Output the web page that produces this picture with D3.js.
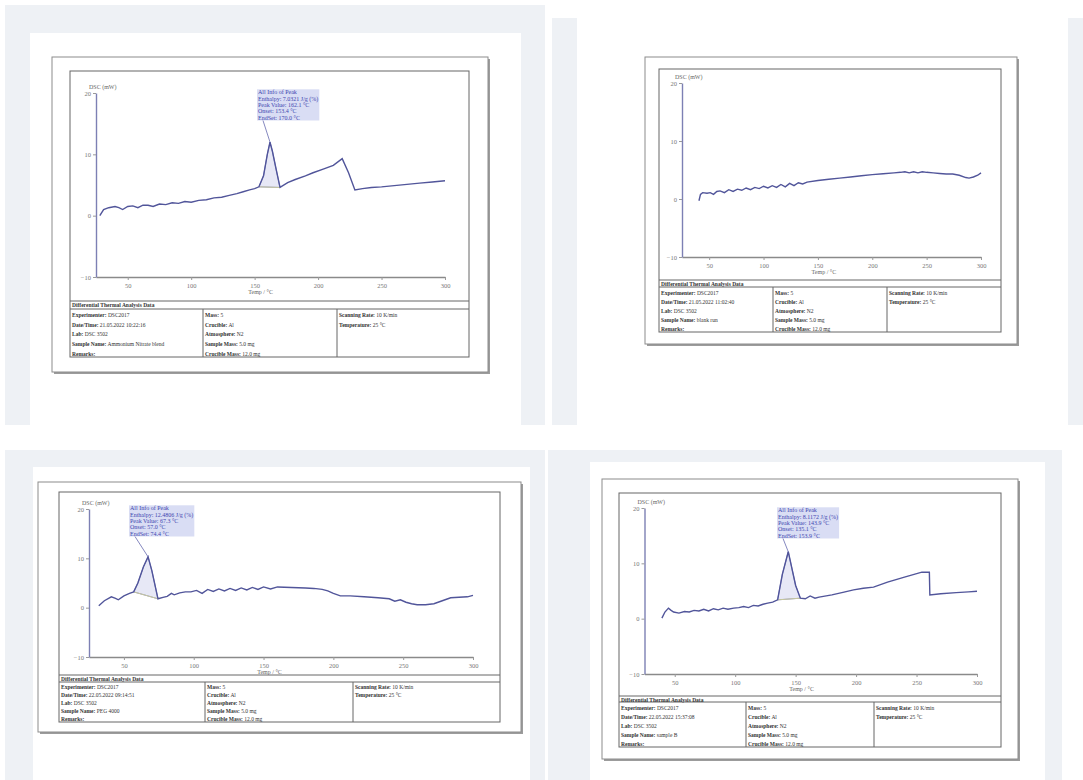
<!DOCTYPE html>
<html>
<head>
<meta charset="utf-8">
<script src="https://cdn.jsdelivr.net/npm/d3@7"></script>
<style>
  body { margin: 0; background: #fff; }
  svg { display: block; font-family: "Liberation Serif", "DejaVu Serif", serif; }
</style>
</head>
<body>
<svg id="chart" width="1083" height="780"></svg>
<script>
// shared axis settings
const xDomain = [25, 300];
const yDomain = [-10, 20];
const xTicks = [50, 100, 150, 200, 250, 300];
const yTicks = [-10, 0, 10, 20];
const xTitle = "Temp / °C";
const yTitle = "DSC (mW)";

// panel 1 (top left)
const p1Temp = [28, 31, 35, 40, 43, 46, 50, 54, 58, 62, 66, 70, 75, 80, 85, 90, 95, 100, 106, 112, 118, 124, 130, 136, 141, 146, 150, 153.4, 157, 160, 162.1, 164, 167, 170, 176, 182, 190, 196, 204, 212, 219, 224, 229, 235, 242, 250, 260, 270, 280, 290, 300];
const p1Dsc  = [0, 1.0, 1.3, 1.5, 1.3, 1.0, 1.5, 1.6, 1.3, 1.7, 1.7, 1.5, 1.9, 1.8, 2.1, 2.0, 2.3, 2.2, 2.5, 2.6, 2.9, 3.0, 3.3, 3.6, 3.9, 4.2, 4.4, 4.7, 6.5, 10.0, 12.0, 10.5, 7.5, 4.6, 5.4, 5.9, 6.5, 7.0, 7.6, 8.2, 9.3, 7.0, 4.2, 4.4, 4.6, 4.7, 4.9, 5.1, 5.3, 5.5, 5.7];
const p1Peak = [153.4, 162.1, 170];

// panel 2 (top right)
const p2Temp = [40.6, 42, 44, 48, 51, 54, 57, 60, 64, 68, 72, 76, 80, 84, 88, 92, 96, 100, 104, 108, 112, 116, 120, 124, 128, 132, 136, 140, 150, 160, 170, 180, 190, 200, 210, 220, 226, 230, 234, 238, 242, 246, 250, 256, 262, 268, 274, 280, 286, 289, 293, 297, 300];
const p2Dsc  = [-0.3, 0.8, 1.1, 1.0, 1.1, 0.8, 1.3, 1.4, 1.1, 1.6, 1.3, 1.7, 1.5, 1.9, 1.6, 2.0, 1.8, 2.2, 1.9, 2.3, 2.0, 2.5, 2.1, 2.7, 2.3, 2.8, 2.6, 2.9, 3.2, 3.4, 3.6, 3.8, 4.0, 4.2, 4.35, 4.5, 4.6, 4.7, 4.5, 4.7, 4.5, 4.7, 4.6, 4.5, 4.4, 4.3, 4.3, 4.1, 3.7, 3.6, 3.8, 4.1, 4.5];

// panel 3 (bottom left)
const p3Temp = [32, 36, 41, 44, 46, 50, 54, 57, 60, 64, 67.3, 70, 74.4, 78, 81, 84, 86, 90, 94, 98, 102, 106, 110, 114, 118, 122, 126, 130, 134, 138, 142, 146, 150, 155, 160, 170, 180, 186, 192, 196, 200, 205, 212, 222, 232, 240, 244, 248, 252, 256, 260, 266, 272, 278, 284, 290, 296, 300];
const p3Dsc  = [0.4, 1.4, 2.2, 1.9, 1.6, 2.4, 2.9, 3.2, 5.0, 8.3, 10.3, 7.5, 1.8, 2.1, 2.3, 2.9, 2.6, 3.0, 3.2, 3.2, 3.5, 2.9, 3.7, 3.3, 3.8, 3.4, 3.9, 3.5, 4.0, 3.6, 4.1, 3.7, 4.2, 3.8, 4.2, 4.1, 4.0, 3.9, 3.7, 3.4, 2.9, 2.4, 2.4, 2.2, 2.0, 1.8, 1.3, 1.6, 1.1, 0.8, 0.6, 0.6, 0.8, 1.4, 2.0, 2.1, 2.2, 2.5];
const p3Peak = [57, 67.3, 74.4];

// panel 4 (bottom right)
const p4Temp = [39.4, 41.9, 44.8, 47, 49.1, 53.5, 58, 62, 66, 70, 74, 78, 82, 86, 90, 94, 98.8, 103, 107, 111, 115, 119, 123, 126.9, 131, 135.1, 139, 143.9, 147, 150, 153.9, 158, 162, 166, 169.4, 180, 190, 197.9, 206, 214.4, 226, 240, 254.4, 260.6, 261, 270, 282.8, 293, 300];
const p4Dsc  = [0.1, 1.2, 1.9, 1.5, 1.2, 1.0, 1.3, 1.2, 1.5, 1.4, 1.7, 1.4, 1.8, 1.6, 1.9, 1.7, 1.9, 2.0, 2.2, 2.0, 2.4, 2.3, 2.6, 2.8, 3.0, 3.4, 8.0, 12.1, 9.0, 6.0, 3.7, 3.6, 4.1, 3.7, 3.9, 4.3, 4.8, 5.2, 5.5, 5.7, 6.6, 7.5, 8.4, 8.4, 4.3, 4.5, 4.7, 4.85, 4.95];
const p4Peak = [135.1, 143.9, 153.9];

// peak report texts
const p1Notes = ["All Info of Peak", "Enthalpy: 7.0321 J/g (%)", "Peak Value: 162.1 °C", "Onset: 153.4 °C", "EndSet: 170.0 °C"];
const p3Notes = ["All Info of Peak", "Enthalpy: 12.4806 J/g (%)", "Peak Value: 67.3 °C", "Onset: 57.0 °C", "EndSet: 74.4 °C"];
const p4Notes = ["All Info of Peak", "Enthalpy: 8.1172 J/g (%)", "Peak Value: 143.9 °C", "Onset: 135.1 °C", "EndSet: 153.9 °C"];

// report table texts
const tableTitle = "Differential Thermal Analysis Data";
const col2 = ["Mass: 5", "Crucible: Al", "Atmosphere: N2", "Sample Mass: 5.0 mg", "Crucible Mass: 12.0 mg"];
const col3 = ["Scanning Rate: 10 K/min", "Temperature: 25 °C"];
const p1Col1 = ["Experimenter: DSC2017", "Date/Time: 21.05.2022 10:22:16", "Lab: DSC 3502", "Sample Name: Ammonium Nitrate blend", "Remarks:"];
const p2Col1 = ["Experimenter: DSC2017", "Date/Time: 21.05.2022 11:02:40", "Lab: DSC 3502", "Sample Name: blank run", "Remarks:"];
const p3Col1 = ["Experimenter: DSC2017", "Date/Time: 22.05.2022 09:14:51", "Lab: DSC 3502", "Sample Name: PEG 4000", "Remarks:"];
const p4Col1 = ["Experimenter: DSC2017", "Date/Time: 22.05.2022 15:37:08", "Lab: DSC 3502", "Sample Name: sample B", "Remarks:"];

const svg = d3.select("#chart");

// page tiles behind each report
const tiles = [
  { gray: [5, 5, 540, 420], white: [30, 33, 491, 392] },
  { gray: [552, 18, 531, 407], white: [577, 18, 491, 407] },
  { gray: [5, 450, 540, 330], white: [33, 467, 497, 313] },
  { gray: [548, 450, 514, 330], white: [590, 462, 455, 318] }
];
tiles.forEach(t => {
  svg.append("rect").attr("x", t.gray[0]).attr("y", t.gray[1])
    .attr("width", t.gray[2]).attr("height", t.gray[3]).attr("fill", "#eef1f5");
  svg.append("rect").attr("x", t.white[0]).attr("y", t.white[1])
    .attr("width", t.white[2]).attr("height", t.white[3]).attr("fill", "#fff");
});

function drawPanel(L, temps, vals, peak, notes, col1) {
  const g = svg.append("g");

  // paper frame with shadow
  g.append("rect").attr("x", L.outer[0] + 2).attr("y", L.outer[1] + 2)
    .attr("width", L.outer[2]).attr("height", L.outer[3]).attr("fill", "#9c9c9c");
  g.append("rect").attr("x", L.outer[0]).attr("y", L.outer[1])
    .attr("width", L.outer[2]).attr("height", L.outer[3])
    .attr("fill", "#fff").attr("stroke", "#8c8c8c").attr("stroke-width", 1);
  g.append("rect").attr("x", L.inner[0]).attr("y", L.inner[1])
    .attr("width", L.inner[2]).attr("height", L.inner[3])
    .attr("fill", "none").attr("stroke", "#666").attr("stroke-width", 1);

  const x = d3.scaleLinear().domain(xDomain).range([L.x0, L.x1]);
  const y = d3.scaleLinear().domain(yDomain).range([L.yBot, L.yTop]);

  const xAxis = g.append("g").attr("transform", `translate(0,${L.yBot})`)
    .call(d3.axisBottom(x).tickValues(xTicks).tickSize(3).tickSizeOuter(0).tickPadding(3));
  xAxis.select(".domain").attr("stroke", "#8a8a8a").attr("stroke-width", 1.4);
  xAxis.selectAll(".tick line").attr("stroke", "#999");
  xAxis.selectAll("text").attr("font-size", 6.5).attr("fill", "#777").attr("font-family", "Liberation Serif");

  const yAxis = g.append("g").attr("transform", `translate(${L.x0},0)`)
    .call(d3.axisLeft(y).tickValues(yTicks).tickSize(3).tickSizeOuter(0).tickPadding(2));
  yAxis.select(".domain").attr("stroke", "#7d80b4").attr("stroke-width", 1.4);
  yAxis.selectAll(".tick line").attr("stroke", "#999");
  yAxis.selectAll("text").attr("font-size", 6.5).attr("fill", "#777").attr("font-family", "Liberation Serif");

  g.append("text").attr("x", L.x0 - 7).attr("y", L.yTop - 4)
    .attr("font-size", 6).attr("fill", "#666").text(yTitle);
  g.append("text").attr("x", x(150) + 6).attr("y", L.yBot + 17)
    .attr("text-anchor", "middle").attr("font-size", 6).attr("fill", "#666").text(xTitle);

  const pts = temps.map((t, i) => [t, vals[i]]);
  const line = d3.line().x(d => x(d[0])).y(d => y(d[1]));

  if (peak) {
    const valAt = t => vals[temps.indexOf(t)];
    const area = pts.filter(d => d[0] >= peak[0] && d[0] <= peak[2]);
    g.append("path").datum(area)
      .attr("d", line(area) + "Z")
      .attr("fill", "#c9cbeb").attr("fill-opacity", 0.45)
      .attr("stroke", "#8d91d0").attr("stroke-width", 1);
    g.append("line")
      .attr("x1", x(peak[0])).attr("y1", y(valAt(peak[0])))
      .attr("x2", x(peak[2])).attr("y2", y(valAt(peak[2])))
      .attr("stroke", "#c8c89a").attr("stroke-width", 1);
  }

  g.append("path").datum(pts)
    .attr("d", line)
    .attr("fill", "none").attr("stroke", "#51559a").attr("stroke-width", 1.4);

  if (notes) {
    const ng = g.append("g");
    const lh = 6.3;
    const nt = ng.append("text").attr("font-size", 6).attr("fill", "#3f47b0");
    notes.forEach((s, i) => {
      nt.append("tspan").attr("x", L.annot[0]).attr("y", L.annot[1] + lh * (i + 1)).text(s);
    });
    const bb = nt.node().getBBox();
    ng.insert("rect", "text").attr("x", bb.x - 1).attr("y", bb.y)
      .attr("width", bb.width + 2).attr("height", bb.height)
      .attr("fill", "#d9ddf4");
    g.append("line")
      .attr("x1", L.annot[0] + 5).attr("y1", bb.y + bb.height)
      .attr("x2", x(peak[1])).attr("y2", y(vals[temps.indexOf(peak[1])]))
      .attr("stroke", "#666aae").attr("stroke-width", 0.8);
  }

  // report table
  const T = L.table;
  const left = L.inner[0], right = L.inner[0] + L.inner[2];
  [T.top, T.head].forEach(yy => {
    g.append("line").attr("x1", left).attr("x2", right).attr("y1", yy).attr("y2", yy)
      .attr("stroke", "#666").attr("stroke-width", 1);
  });
  T.cols.forEach(cx => {
    g.append("line").attr("x1", cx).attr("x2", cx).attr("y1", T.head).attr("y2", L.inner[1] + L.inner[3])
      .attr("stroke", "#666").attr("stroke-width", 1);
  });
  g.append("text").attr("x", left + 2).attr("y", T.top + 6.2)
    .attr("font-size", 5.5).attr("font-weight", "bold").attr("fill", "#333").text(tableTitle);
  const rowH = (L.inner[1] + L.inner[3] - T.head) / 5;
  const colX = [left + 2, T.cols[0] + 2, T.cols[1] + 2];
  [col1, col2, col3].forEach((col, ci) => {
    col.forEach((s, ri) => {
      const parts = s.split(":");
      const t = g.append("text").attr("x", colX[ci]).attr("y", T.head + rowH * (ri + 0.85))
        .attr("font-size", 5.5).attr("fill", "#333");
      t.append("tspan").attr("font-weight", "bold").text(parts[0] + ":");
      t.append("tspan").text(parts.slice(1).join(":"));
    });
  });
}

drawPanel({
  outer: [52, 57, 436, 315], inner: [70, 71, 399, 286],
  x0: 96, x1: 445, yTop: 93, yBot: 277,
  annot: [258, 88], table: { top: 301, head: 309, cols: [203, 337] }
}, p1Temp, p1Dsc, p1Peak, p1Notes, p1Col1);

drawPanel({
  outer: [645, 57, 372, 287], inner: [659, 69, 342, 263],
  x0: 682, x1: 981, yTop: 83, yBot: 257,
  table: { top: 280, head: 287, cols: [773, 887] }
}, p2Temp, p2Dsc, null, null, p2Col1);

drawPanel({
  outer: [38, 482, 483, 250], inner: [59, 492, 441, 230],
  x0: 89, x1: 473, yTop: 509, yBot: 657,
  annot: [130, 504], table: { top: 675, head: 682, cols: [205, 353] }
}, p3Temp, p3Dsc, p3Peak, p3Notes, p3Col1);

drawPanel({
  outer: [602, 479, 416, 280], inner: [619, 493, 382, 254],
  x0: 644.5, x1: 977, yTop: 508, yBot: 674,
  annot: [778, 506], table: { top: 696, head: 702, cols: [746, 874] }
}, p4Temp, p4Dsc, p4Peak, p4Notes, p4Col1);
</script>
</body>
</html>
